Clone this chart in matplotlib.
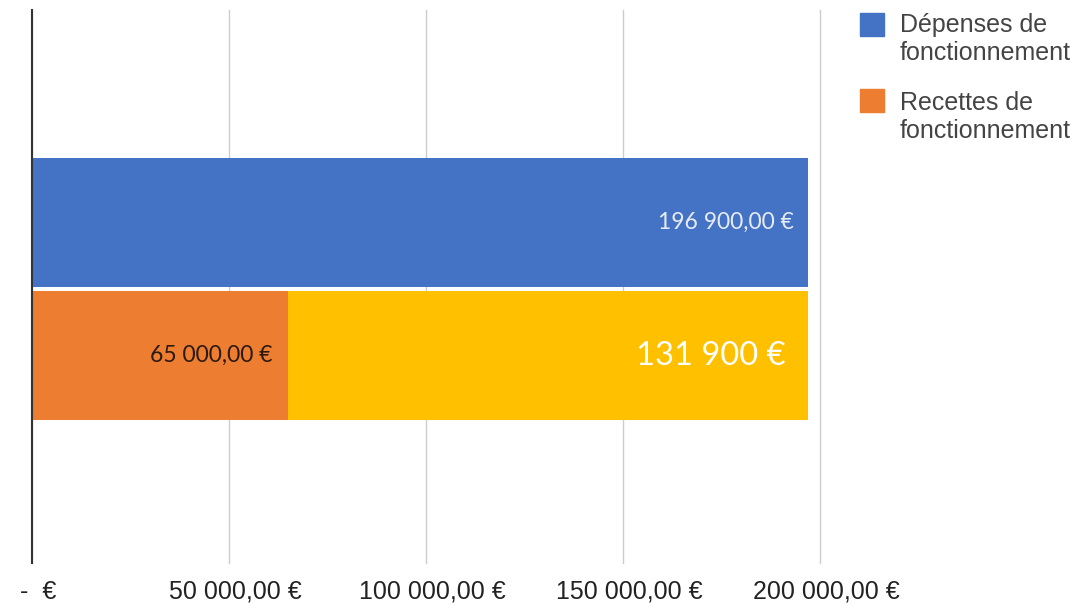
import matplotlib.pyplot as plt
import matplotlib.transforms as mtransforms
from matplotlib.patches import Rectangle

# Données
series = ["Dépenses de\nfonctionnement", "Recettes de\nfonctionnement"]
depenses = [196900]
recettes = [65000]
reste = [131900]
ticks = [0, 50000, 100000, 150000, 200000]
tick_labels = ["-  €", "50 000,00 €", "100 000,00 €", "150 000,00 €", "200 000,00 €"]
lbl_depenses = "196 900,00 €"
lbl_recettes = "65 000,00 €"
lbl_reste = "131 900 €"

bleu, orange, jaune = "#4472C4", "#ED7D31", "#FFC000"
narrow = ["Liberation Sans Narrow", "Liberation Sans", "DejaVu Sans"]

W, H = 1089, 603
fig = plt.figure(figsize=(W / 100, H / 100), dpi=100)
ax = fig.add_axes([32 / W, 1 - 563 / H, (820 - 32) / W, 553 / H])

h = 0.485
ax.barh([0.25], depenses, height=h, color=bleu)
ax.barh([-0.25], recettes, height=h, color=orange)
ax.barh([-0.25], reste, left=recettes, height=h, color=jaune)

ax.set_xlim(0, 200000)
ax.set_ylim(-1.03, 1.05)
ax.set_xticks(ticks)
ax.set_xticklabels(tick_labels, family=narrow, fontsize=18, color="#222222")
ax.tick_params(axis="x", length=0, pad=12)
# léger décalage des libellés vers la droite
decal = mtransforms.ScaledTranslation(6 / 100, 0, fig.dpi_scale_trans)
for lab in ax.get_xticklabels():
    lab.set_transform(lab.get_transform() + decal)
ax.set_yticks([])
ax.grid(axis="x", color="#cccccc", linewidth=1)
for l in ax.get_xgridlines():
    l.set_clip_on(False)
ax.set_axisbelow(True)
for s in ["top", "right", "bottom"]:
    ax.spines[s].set_visible(False)
ax.spines["left"].set_color("#333333")
ax.spines["left"].set_linewidth(1.5)
ax.spines["left"].set_zorder(5)

# Étiquettes des barres
ax.text(depenses[0] - 3500, 0.25, lbl_depenses, ha="right", va="center",
        family="Lato", fontsize=16.5, color="#e6ecf7")
ax.text(recettes[0] - 4000, -0.25, lbl_recettes, ha="right", va="center",
        family="Lato", fontsize=16.5, color="#2a1a10")
ax.text(recettes[0] + reste[0] - 5500, -0.25, lbl_reste, ha="right", va="center",
        family="Lato", fontsize=23.5, color="white")

# Légende (carrés alignés sur la première ligne)
couleurs = [bleu, orange]
carre_y = [13, 89]
base_y = [32, 110]
for nom, c, cy, by in zip(series, couleurs, carre_y, base_y):
    fig.patches.append(Rectangle((860 / W, 1 - (cy + 23) / H), 24 / W, 23 / H,
                                 transform=fig.transFigure, color=c))
    lignes = nom.split("\n")
    for i, ligne in enumerate(lignes):
        fig.text(900 / W, 1 - (by + 28 * i) / H, ligne, ha="left", va="baseline",
                 family="Liberation Sans", fontsize=18, color="#444444")

plt.savefig("out.png", dpi=100)
